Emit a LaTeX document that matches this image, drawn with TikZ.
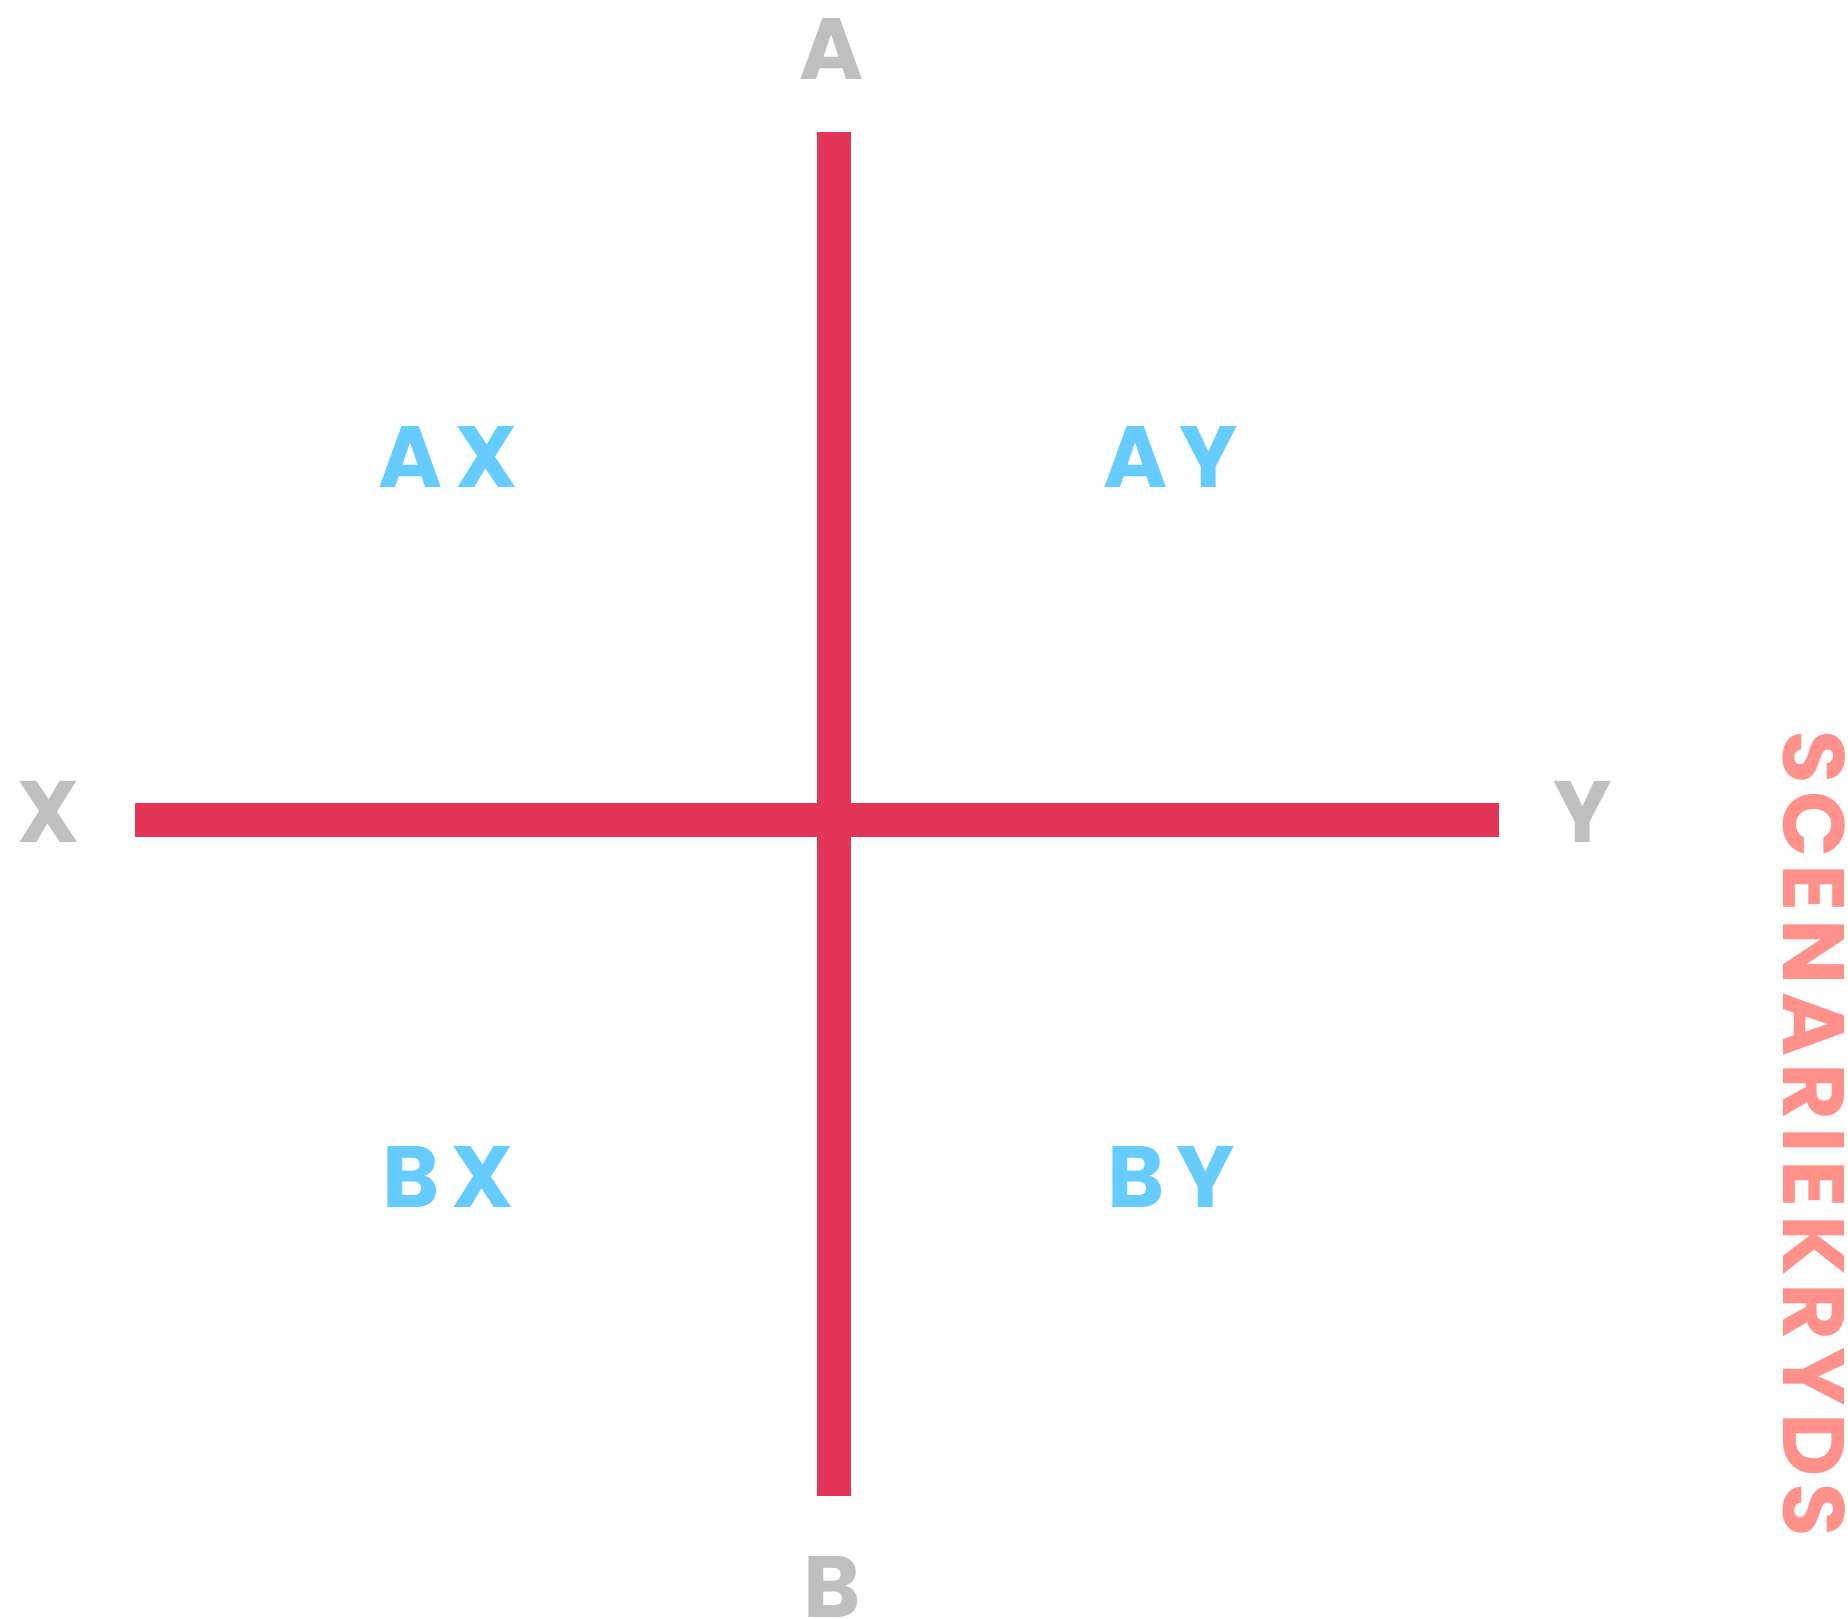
\documentclass[tikz,border=0pt]{standalone}
\usepackage{fontspec}
\setmainfont{Poppins}
\newfontfamily\labelfont{Poppins}[LetterSpace=14]
\newfontfamily\titlefont{Poppins}[LetterSpace=8.5]
\definecolor{barred}{RGB}{227,53,87}
\definecolor{axisgray}{RGB}{191,191,191}
\definecolor{quadblue}{RGB}{102,204,255}
\definecolor{titlesalmon}{RGB}{255,145,138}
\tikzset{
  bar/.style={line width=34pt, draw=barred, line cap=butt},
  axislabel/.style={text=axisgray, font=\labelfont\bfseries\fontsize{87}{90}\selectfont, inner sep=0pt, anchor=base},
  quadlabel/.style={text=quadblue, font=\labelfont\bfseries\fontsize{87}{90}\selectfont, inner sep=0pt, anchor=base},
  titlelabel/.style={text=titlesalmon, font=\titlefont\bfseries\fontsize{87}{90}\selectfont, inner sep=0pt, rotate=-90, anchor=base west},
}
\begin{document}
\begin{tikzpicture}[x=1pt,y=-1pt]
\useasboundingbox (0,0) rectangle (1848,1619);
\coordinate (top) at (834,132);
\coordinate (bottom) at (834,1496);
\coordinate (left) at (135,820);
\coordinate (right) at (1499,820);
\draw[bar] (top) -- (bottom);
\draw[bar] (left) -- (right);
\node[axislabel] (A) at (832,80) {A};
\node[axislabel] (B) at (832,1617) {B};
\node[axislabel] (X) at (49,842) {X};
\node[axislabel] (Y) at (1583,842) {Y};
\node[quadlabel] (AX) at (448,487) {AX};
\node[quadlabel] (AY) at (1171,487) {AY};
\node[quadlabel] (BX) at (448,1207) {BX};
\node[quadlabel] (BY) at (1171,1207) {BY};
\node[titlelabel] (title) at (1783,730) {SCENARIEKRYDS};
\end{tikzpicture}
\end{document}
